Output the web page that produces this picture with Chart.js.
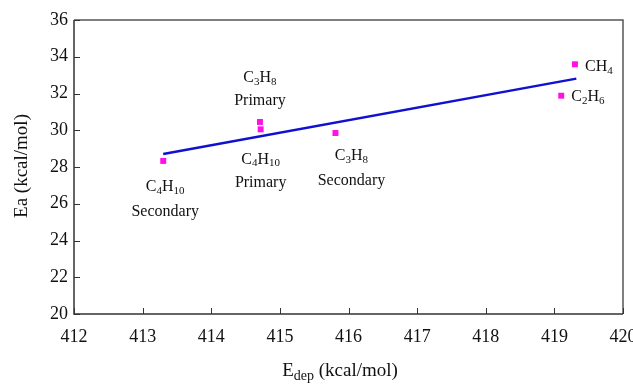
<!DOCTYPE html>
<html>
<head>
<meta charset="utf-8">
<script src="https://cdn.jsdelivr.net/npm/chart.js@4/dist/chart.umd.min.js"></script>
<style>
html,body{margin:0;padding:0;background:#fff;}
#wrap{width:633px;height:384px;position:relative;}
</style>
</head>
<body>
<div id="wrap"><canvas id="c" width="633" height="384"></canvas></div>
<script>
// ---- data ----
const xValues = [413.30, 414.71, 414.72, 415.81, 419.30, 419.10];
const yValues = [28.33, 30.45, 30.05, 29.85, 33.59, 31.88];
const formulaLabels = ["C_{4}H_{10}", "C_{3}H_{8}", "C_{4}H_{10}", "C_{3}H_{8}", "CH_{4}", "C_{2}H_{6}"];
const typeLabels = ["Secondary", "Primary", "Primary", "Secondary", "", ""];
const fitX = [413.30, 419.32];
const fitY = [28.71, 32.81];
const xTickValues = [412, 413, 414, 415, 416, 417, 418, 419, 420];
const yTickValues = [20, 22, 24, 26, 28, 30, 32, 34, 36];
const xTitle = "E_{dep} (kcal/mol)";
const yTitle = "Ea (kcal/mol)";

// ---- label placement (style) ----
const labelPlacement = [
  {dx: 2, dy1: 26, dy2: 51, align: 'center'},
  {dx: 0, dy1: -44, dy2: -21, align: 'center'},
  {dx: 0, dy1: 30, dy2: 53, align: 'center'},
  {dx: 16, dy1: 23, dy2: 48, align: 'center'},
  {dx: 10, dy1: 3, dy2: 0, align: 'left'},
  {dx: 10, dy1: 1, dy2: 0, align: 'left'}
];

const FONT = '"Liberation Serif", "Times New Roman", serif';

function parseRich(s) {
  const segs = [];
  const re = /_\{([^}]*)\}|([^_]+)/g;
  let m;
  while ((m = re.exec(s)) !== null) {
    if (m[1] !== undefined) segs.push({t: m[1], sub: true});
    else segs.push({t: m[2], sub: false});
  }
  return segs;
}

function drawRich(ctx, s, x, y, size, subSize, subDrop, align) {
  const segs = parseRich(s);
  let w = 0;
  segs.forEach(g => {
    ctx.font = (g.sub ? subSize : size) + 'px ' + FONT;
    g.w = ctx.measureText(g.t).width;
    w += g.w;
  });
  let cx = align === 'center' ? x - w / 2 : x;
  ctx.textBaseline = 'middle';
  ctx.textAlign = 'left';
  segs.forEach(g => {
    ctx.font = (g.sub ? subSize : size) + 'px ' + FONT;
    ctx.fillText(g.t, cx, y + (g.sub ? subDrop : 0));
    cx += g.w;
  });
}

const extrasPlugin = {
  id: 'extras',
  afterDraw(chart) {
    const ctx = chart.ctx;
    const xs = chart.scales.x, ys = chart.scales.y;
    const a = chart.chartArea;
    ctx.save();
    // frame
    ctx.strokeStyle = '#555';
    ctx.lineWidth = 1.5;
    ctx.beginPath();
    ctx.moveTo(a.left, a.top);
    ctx.lineTo(a.right, a.top);
    ctx.lineTo(a.right, a.bottom);
    ctx.stroke();
    ctx.strokeStyle = '#333';
    ctx.lineWidth = 1.5;
    ctx.beginPath();
    ctx.moveTo(a.left, a.top);
    ctx.lineTo(a.left, a.bottom);
    ctx.lineTo(a.right, a.bottom);
    ctx.stroke();
    // inward ticks
    ctx.lineWidth = 1;
    ctx.beginPath();
    xTickValues.forEach(v => {
      const px = Math.round(xs.getPixelForValue(v)) + 0.5;
      ctx.moveTo(px, a.bottom);
      ctx.lineTo(px, a.bottom - 6);
    });
    yTickValues.forEach(v => {
      const py = Math.round(ys.getPixelForValue(v)) + 0.5;
      ctx.moveTo(a.left, py);
      ctx.lineTo(a.left + 6, py);
    });
    ctx.stroke();
    // point labels
    ctx.fillStyle = '#111';
    xValues.forEach((xv, i) => {
      const px = xs.getPixelForValue(xv);
      const py = ys.getPixelForValue(yValues[i]);
      const p = labelPlacement[i];
      drawRich(ctx, formulaLabels[i], px + p.dx, py + p.dy1, 16, 11, 4, p.align);
      if (typeLabels[i]) {
        ctx.font = '16px ' + FONT;
        ctx.textAlign = p.align;
        ctx.textBaseline = 'middle';
        ctx.fillText(typeLabels[i], px + p.dx, py + p.dy2);
      }
    });
    // axis titles
    drawRich(ctx, xTitle, 340, 371, 19, 14, 5, 'center');
    ctx.save();
    ctx.translate(22, 166);
    ctx.rotate(-Math.PI / 2);
    ctx.font = '19px ' + FONT;
    ctx.textAlign = 'center';
    ctx.textBaseline = 'middle';
    ctx.fillText(yTitle, 0, 0);
    ctx.restore();
    ctx.restore();
  }
};

new Chart(document.getElementById('c'), {
  type: 'scatter',
  data: {
    datasets: [
      {
        type: 'line',
        data: fitX.map((x, i) => ({x: x, y: fitY[i]})),
        borderColor: '#1010D0',
        borderWidth: 2.5,
        pointRadius: 0,
        fill: false,
        order: 2
      },
      {
        data: xValues.map((x, i) => ({x: x, y: yValues[i]})),
        pointStyle: 'rect',
        pointRadius: 4.2,
        backgroundColor: '#FF10E8',
        borderColor: '#FF10E8',
        borderWidth: 0,
        order: 1
      }
    ]
  },
  options: {
    responsive: false,
    animation: false,
    events: [],
    layout: {padding: {top: 20, right: 10, left: 0, bottom: 0}},
    plugins: {legend: {display: false}, tooltip: {enabled: false}},
    scales: {
      x: {
        type: 'linear',
        min: 412, max: 420,
        afterBuildTicks(s) { s.ticks = xTickValues.map(v => ({value: v})); },
        afterFit(s) { s.height = 70; s.paddingRight = 0; s.paddingLeft = 0; },
        grid: {display: false, drawTicks: false},
        border: {display: false},
        ticks: {
          color: '#111', padding: 12,
          font: {family: FONT, size: 18},
          maxRotation: 0,
          callback: v => String(v)
        }
      },
      y: {
        type: 'linear',
        min: 20, max: 36,
        afterBuildTicks(s) { s.ticks = yTickValues.map(v => ({value: v})); },
        afterFit(s) { s.width = 74; s.paddingTop = 0; s.paddingBottom = 0; },
        grid: {display: false, drawTicks: false},
        border: {display: false},
        ticks: {
          color: '#111', padding: 6,
          font: {family: FONT, size: 18},
          callback: v => String(v)
        }
      }
    }
  },
  plugins: [extrasPlugin]
});
</script>
</body>
</html>
